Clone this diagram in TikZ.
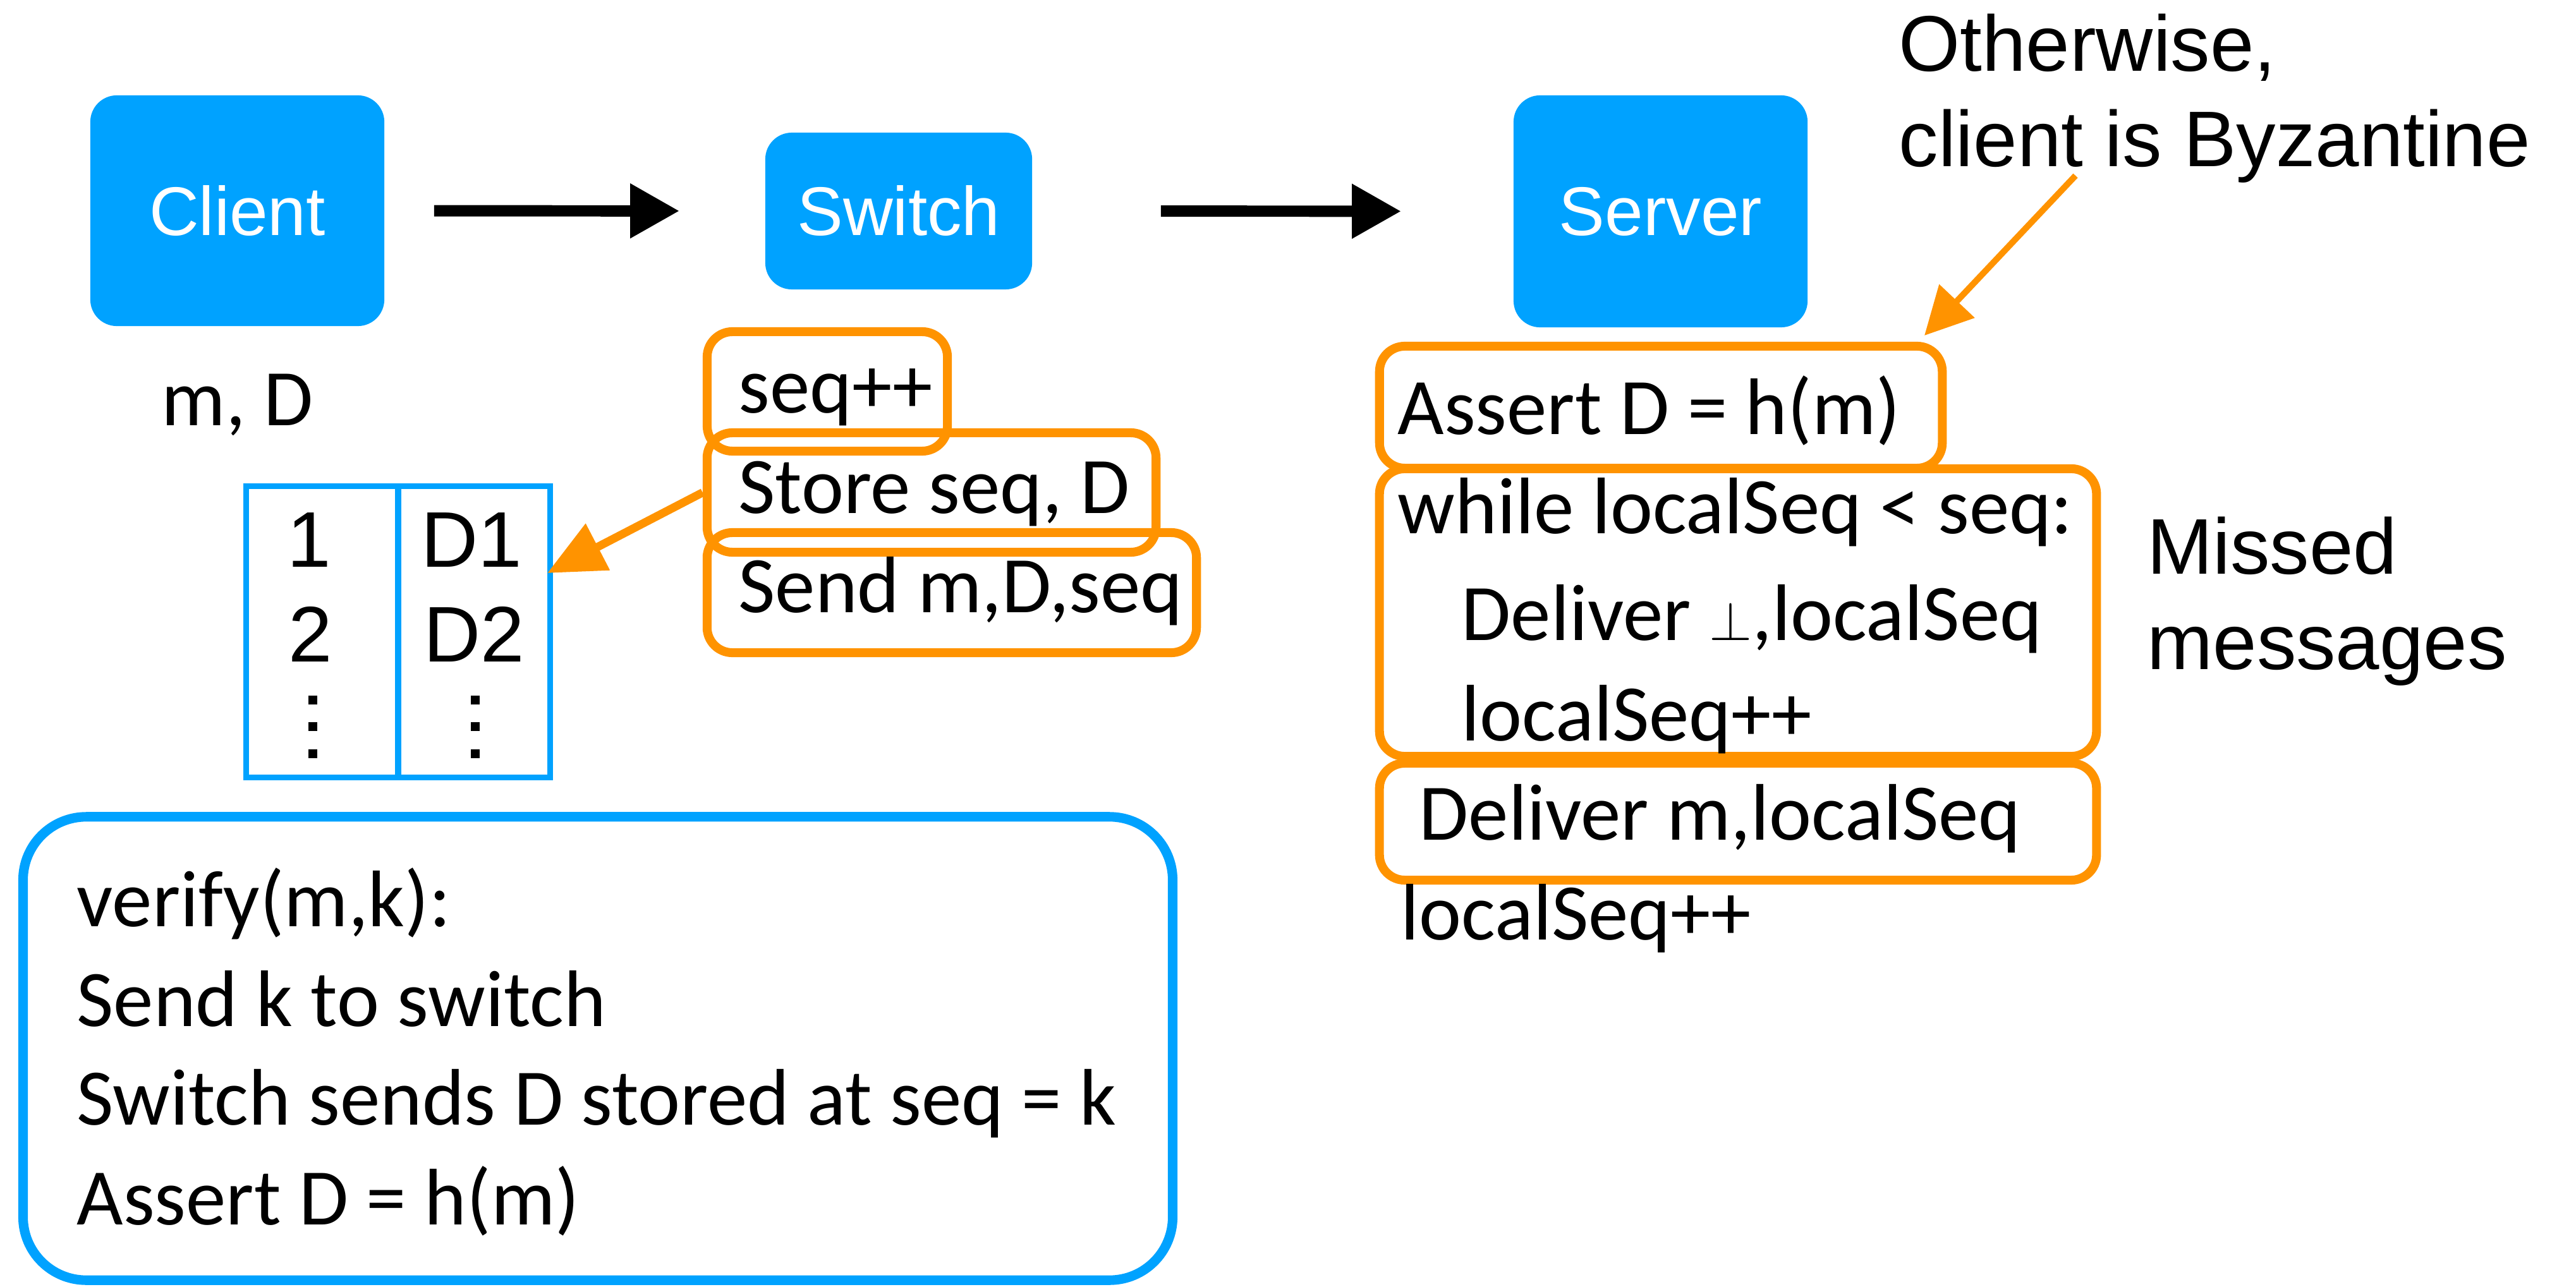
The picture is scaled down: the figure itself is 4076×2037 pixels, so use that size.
\documentclass[tikz,border=0pt]{standalone}
\usepackage{fontspec}
\setmainfont{Carlito}
\newfontfamily\arialf{Liberation Sans}
\usetikzlibrary{arrows.meta}
\definecolor{kblue}{HTML}{00A2FF}
\definecolor{korange}{HTML}{FF9300}
\tikzset{
  bluebox/.style={fill=kblue, rounded corners=0.42cm, inner sep=0pt, text=white,
    font=\arialf\fontsize{31}{37}\selectfont},
  obox/.style={draw=korange, line width=4pt, rounded corners=0.4cm, inner sep=0pt},
  ctext/.style={font=\fontsize{36.1}{44}\selectfont, inner sep=0pt, anchor=base west},
  atext/.style={font=\arialf\fontsize{35.5}{43}\selectfont, inner sep=0pt, anchor=base west},
  ttext/.style={font=\arialf\fontsize{35.5}{43}\selectfont, inner sep=0pt, anchor=base},
  blackarrow/.style={line width=5.1pt, -{Triangle[length=0.78cm,width=0.82cm]}},
  oarrow/.style={draw=korange, line width=3.7pt, -{Triangle[length=0.9cm,width=0.8cm]}},
  oarrowthin/.style={draw=korange, line width=2.8pt, -{Triangle[length=0.75cm,width=0.75cm]}},
}
\begin{document}
\begin{tikzpicture}[x=0.01cm,y=-0.01cm]
\useasboundingbox (0,0) rectangle (4076,2037);

% blue boxes
\node[bluebox, minimum width=4.65cm, minimum height=3.65cm] (client) at (375.5,333.5) {Client};
\node[bluebox, minimum width=4.22cm, minimum height=2.48cm] (switch) at (1422,334) {Switch};
\node[bluebox, minimum width=4.65cm, minimum height=3.67cm] (server) at (2627.5,334.5) {Server};

\draw[blackarrow, shorten <=0.78cm, shorten >=1.35cm] (client.east) -- (switch.west);
\draw[blackarrow, shorten <=2.03cm, shorten >=1.77cm] (switch.east) -- (server.west);

% client side
\node[ctext] (md) at (255,673) {m, D};

\node[draw=kblue, line width=2.6pt, minimum width=4.8cm, minimum height=4.6cm, inner sep=0pt] (table) at (630,1000) {};
\draw[kblue, line width=2.6pt] (table.north) -- (table.south);
\node[ttext] (r1a) at (489,897) {1};
\node[ttext] (r1b) at (746,897) {D1};
\node[ttext] (r2a) at (491,1047) {2};
\node[ttext] (r2b) at (750,1047) {D2};
\foreach \yy in {1108,1150,1193} {
  \fill (488,\yy-7) rectangle (502,\yy+7);
  \fill (745,\yy-7) rectangle (759,\yy+7);
}

% switch side
\node[obox, minimum width=3.8cm, minimum height=1.89cm] (seqbox) at (1309,619.5) {};
\node[obox, minimum width=7.1cm, minimum height=1.89cm] (storebox) at (1474,779.5) {};
\node[obox, minimum width=7.74cm, minimum height=1.9cm] (sendbox) at (1506,938) {};
\node[ctext] (seqtxt) at (1168,654) {seq++};
\node[ctext] (storetxt) at (1168,812) {Store seq, D};
\node[ctext] (sendtxt) at (1168,969) {Send m,D,seq};

\coordinate (tabtip) at (866,907);
\draw[oarrow] (storebox.west) -- (tabtip);

% server side
\node[obox, minimum width=8.9cm, minimum height=1.93cm] (assertbox) at (2628,644.5) {};
\node[obox, minimum width=11.34cm, minimum height=4.55cm] (whilebox) at (2750,969.5) {};
\node[obox, minimum width=11.34cm, minimum height=1.85cm] (deliverbox) at (2750,1300.5) {};
\node[ctext] (asserttxt) at (2211,687) {Assert D = h(m)};
\node[ctext] (whiletxt) at (2211,844) {while localSeq < seq:};
\node[ctext] (botttxt) at (2312,1013) {Deliver $\perp$,localSeq};
\node[ctext] (incatxt) at (2312,1172) {localSeq++};
\node[ctext] (delivtxt) at (2245,1329) {Deliver m,localSeq};
\node[ctext] (incbtxt) at (2216,1487) {localSeq++};

\node[atext] (missed) at (3397,908) {Missed};
\node[atext] (messages) at (3397,1059) {messages};

\node[atext] (oth1) at (3004,113) {Otherwise,};
\node[atext] (oth2) at (3004,264) {client is Byzantine};
\coordinate (othstart) at (3284,278);
\coordinate (othtip) at (3045,531);
\draw[oarrowthin] (othstart) -- (othtip);

% verify box
\node[draw=kblue, line width=4.3pt, rounded corners=1cm, minimum width=18.18cm, minimum height=7.33cm, inner sep=0pt] (verify) at (946,1659.5) {};
\node[ctext] (v1) at (121,1466) {verify(m,k):};
\node[ctext] (v2) at (121,1624) {Send k to switch};
\node[ctext] (v3) at (121,1780) {Switch sends D stored at seq = k};
\node[ctext] (v4) at (121,1938) {Assert D = h(m)};
\end{tikzpicture}
\end{document}
